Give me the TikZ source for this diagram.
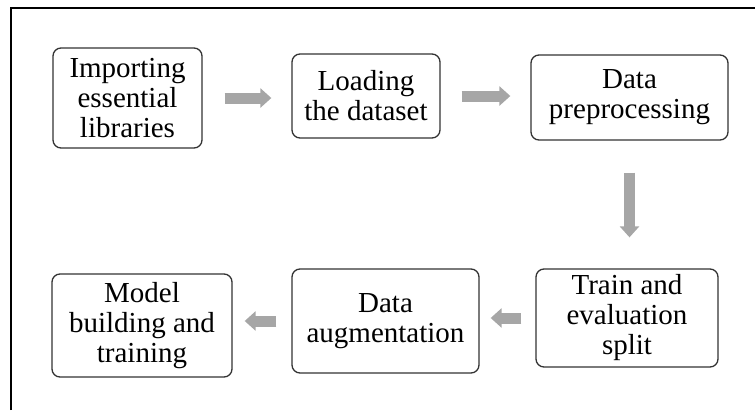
\documentclass[tikz,border=0pt]{standalone}
\usepackage{fontspec}
\setmainfont{Liberation Serif}
\usetikzlibrary{arrows.meta}
\definecolor{arrowgray}{HTML}{A6A6A6}
\definecolor{boxline}{HTML}{333333}
\tikzset{
  stepbox/.style={draw=boxline, line width=1.3pt, rounded corners=8pt, inner sep=0pt, align=center,
    font=\fontsize{29}{30}\selectfont},
  barrow/.style={draw=arrowgray, line width=11pt, -{Triangle[length=11pt,width=19pt]}}
}
\begin{document}
\begin{tikzpicture}[x=1pt,y=-1pt]
\useasboundingbox (0,0) rectangle (755,410);
\draw[line width=2pt] (11,410) -- (11,7.5) -- (755,7.5);
\node[stepbox, minimum width=149pt, minimum height=100pt] (b1) at (127.5,98) {Importing\\essential\\libraries};
\node[stepbox, minimum width=148pt, minimum height=84pt] (b2) at (366,96) {Loading\\the dataset};
\node[stepbox, minimum width=197pt, minimum height=85pt] (b3) at (629.5,97.5) {Data\\preprocessing};
\node[stepbox, minimum width=182pt, minimum height=98pt] (b4) at (627,318) {Train and\\evaluation\\split};
\node[stepbox, minimum width=187pt, minimum height=104pt] (b5) at (385.5,321) {Data\\augmentation};
\node[stepbox, minimum width=180pt, minimum height=103pt] (b6) at (142,325.5) {Model\\building and\\training};
\draw[barrow, shorten <=22pt, shorten >=20pt] (b1.east) -- (b2.west |- b1.east);
\draw[barrow, shorten <=21pt, shorten >=20pt] (b2.east) -- (b3.west |- b2.east);
\draw[barrow, shorten <=32pt, shorten >=31pt] (b3.south) -- (b3.south |- b4.north);
\draw[barrow, shorten <=14pt, shorten >=11pt] (b4.west) -- (b5.east |- b4.west);
\draw[barrow, shorten <=15pt, shorten >=12pt] (b5.west) -- (b6.east |- b5.west);
\end{tikzpicture}
\end{document}
